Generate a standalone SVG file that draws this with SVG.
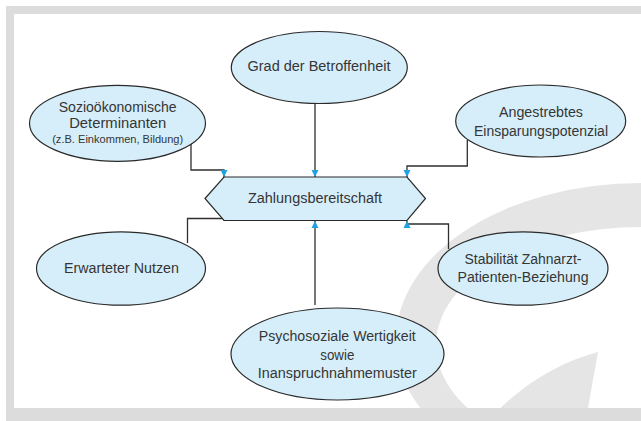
<svg xmlns="http://www.w3.org/2000/svg" width="641" height="421" viewBox="0 0 641 421">
<defs>
<style>
.node{fill:#d5eefa;stroke:#2a2a2a;stroke-width:1.2}
.t{font-family:"Liberation Sans",Arial,sans-serif;font-size:14px;fill:#353535;text-anchor:middle}
.s{font-size:11px}
.c{fill:none;stroke:#2f2f2f;stroke-width:1.3}
.bg{fill:#e5e5e5}
</style>
<marker id="ah" markerUnits="userSpaceOnUse" markerWidth="8" markerHeight="8" refX="7" refY="4" orient="auto" viewBox="0 0 8 8">
<path d="M0,0.5 L7,4 L0,7.5 Z" fill="#1ea3e2"/>
</marker>
</defs>
<rect x="0" y="0" width="641" height="421" fill="#ffffff"/>
<g id="background">
<path class="bg" fill-rule="evenodd" d="M396,340 A245,157 0 1,1 886,340 A245,157 0 1,1 396,340 Z M436,345 A205,118 0 1,0 846,345 A205,118 0 1,0 436,345 Z"/>
<path class="bg" d="M488,421 C520,385 560,362 598,352 C594,375 590,395 586,421 Z"/>
<path fill="#dcdcdc" d="M6,6 H641 V14 H14 V408 H641 V421 H6 Z"/>
</g>
<g id="connectors">
<path class="c" d="M191,140 V170 H224 V177" marker-end="url(#ah)"/>
<path class="c" d="M315,103 V177" marker-end="url(#ah)"/>
<path class="c" d="M467.3,140 V166 H407 V177" marker-end="url(#ah)"/>
<path class="c" d="M187.5,243 V218.5 H224 V220.5" marker-end="url(#ah)"/>
<path class="c" d="M315,305 V221" marker-end="url(#ah)"/>
<path class="c" d="M448.5,249 V224 H407 V221" marker-end="url(#ah)"/>
</g>
<g id="grad">
<ellipse class="node" cx="319.3" cy="67.5" rx="88" ry="36"/>
<text class="t" x="319" y="70.5" textLength="143" lengthAdjust="spacingAndGlyphs">Grad der Betroffenheit</text>
</g>
<g id="sozio">
<ellipse class="node" cx="117.5" cy="123.3" rx="88" ry="38"/>
<text class="t" x="117.7" y="112" textLength="118" lengthAdjust="spacingAndGlyphs">Sozioökonomische</text>
<text class="t" x="117.7" y="128" textLength="97" lengthAdjust="spacingAndGlyphs">Determinanten</text>
<text class="t s" x="117.7" y="143" textLength="131" lengthAdjust="spacingAndGlyphs">(z.B. Einkommen, Bildung)</text>
</g>
<g id="angestrebt">
<ellipse class="node" cx="540.7" cy="121" rx="85" ry="36"/>
<text class="t" x="541" y="117" textLength="84" lengthAdjust="spacingAndGlyphs">Angestrebtes</text>
<text class="t" x="541" y="135.5" textLength="134" lengthAdjust="spacingAndGlyphs">Einsparungspotenzial</text>
</g>
<g id="zahlung">
<polygon class="node" points="205,198.5 224,177 407,177 425.5,198.5 407,220.5 224,220.5"/>
<text class="t" x="315" y="203" textLength="134" lengthAdjust="spacingAndGlyphs">Zahlungsbereitschaft</text>
</g>
<g id="nutzen">
<ellipse class="node" cx="121" cy="268.5" rx="84.5" ry="36.7"/>
<text class="t" x="121.4" y="273" textLength="115" lengthAdjust="spacingAndGlyphs">Erwarteter Nutzen</text>
</g>
<g id="stabil">
<ellipse class="node" cx="523" cy="268.5" rx="85" ry="36.7"/>
<text class="t" x="523" y="264" textLength="117" lengthAdjust="spacingAndGlyphs">Stabilität Zahnarzt-</text>
<text class="t" x="523" y="282" textLength="131" lengthAdjust="spacingAndGlyphs">Patienten-Beziehung</text>
</g>
<g id="psycho">
<ellipse class="node" cx="337.5" cy="354" rx="106.5" ry="46"/>
<text class="t" x="337.3" y="341" textLength="157" lengthAdjust="spacingAndGlyphs">Psychosoziale Wertigkeit</text>
<text class="t" x="337.3" y="360" textLength="34" lengthAdjust="spacingAndGlyphs">sowie</text>
<text class="t" x="337.3" y="378" textLength="159" lengthAdjust="spacingAndGlyphs">Inanspruchnahmemuster</text>
</g>
</svg>
